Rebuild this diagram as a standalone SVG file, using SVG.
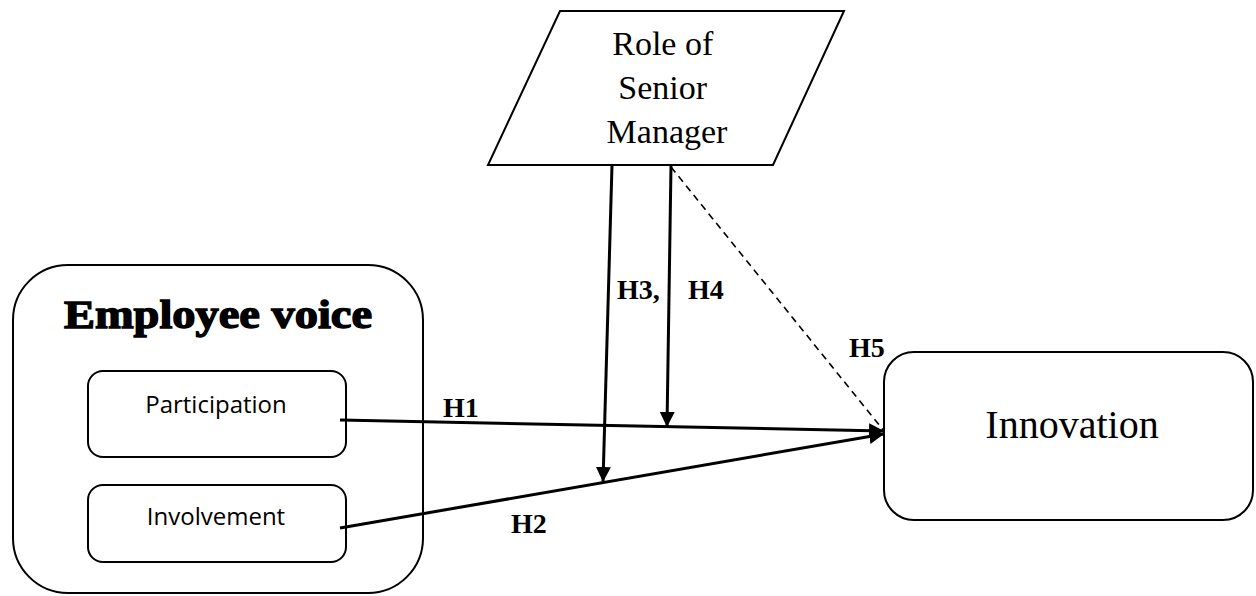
<svg xmlns="http://www.w3.org/2000/svg" width="1256" height="596" viewBox="0 0 1256 596">
  <style>
    .box { fill: #ffffff; stroke: #000000; stroke-width: 2; }
    .link { fill: none; stroke: #000000; stroke-width: 3; }
    .dash { fill: none; stroke: #000000; stroke-width: 1.6; stroke-dasharray: 7 5; }
    .serif { font-family: "Liberation Serif", "Times New Roman", serif; fill: #000000; }
    .sans { font-family: "Open Sans", "Liberation Sans", sans-serif; fill: #000000; }
    .hlabel { font-family: "Liberation Serif", "Times New Roman", serif; font-weight: bold; font-size: 28px; fill: #000000; }
  </style>
  <defs>
    <marker id="arrow" viewBox="0 0 10 10" refX="10" refY="5" markerWidth="5" markerHeight="5" markerUnits="strokeWidth" orient="auto">
      <path d="M0,0 L10,5 L0,10 Z" fill="#000000"/>
    </marker>
  </defs>

  <rect width="1256" height="596" fill="#ffffff"/>

  <!-- Employee voice group -->
  <g id="employee-voice">
    <rect class="box" x="13" y="265" width="410" height="328" rx="55" ry="55"/>
    <text class="serif" x="218" y="328" text-anchor="middle" font-size="40" font-weight="900" stroke="#000" stroke-width="1.4" textLength="308" lengthAdjust="spacingAndGlyphs">Employee voice</text>
  </g>

  <g id="participation">
    <rect class="box" x="88" y="371" width="258" height="86" rx="15" ry="15"/>
    <text class="sans" x="216" y="413" text-anchor="middle" font-size="24">Participation</text>
  </g>

  <g id="involvement">
    <rect class="box" x="88" y="485" width="258" height="77" rx="15" ry="15"/>
    <text class="sans" x="216" y="525" text-anchor="middle" font-size="24">Involvement</text>
  </g>

  <g id="senior-manager">
    <polygon class="box" points="560,11 844,11 773,165 488,165"/>
    <text class="serif" font-size="34" text-anchor="middle">
      <tspan x="667" y="55">Role of</tspan>
      <tspan x="667" y="99">Senior</tspan>
      <tspan x="667" y="143">Manager</tspan>
    </text>
  </g>

  <g id="innovation">
    <rect class="box" x="884" y="352" width="369" height="168" rx="30" ry="30"/>
    <text class="serif" x="1072" y="438" text-anchor="middle" font-size="40">Innovation</text>
  </g>

  <!-- Connectors -->
  <g id="connectors">
    <line class="link" x1="340" y1="420" x2="884" y2="431" marker-end="url(#arrow)"/>
    <line class="link" x1="340" y1="528" x2="884" y2="434" marker-end="url(#arrow)"/>
    <line class="link" x1="612" y1="165" x2="603" y2="482" marker-end="url(#arrow)"/>
    <line class="link" x1="671" y1="165" x2="667" y2="427" marker-end="url(#arrow)"/>
    <line class="dash" x1="671" y1="167" x2="884" y2="431"/>
  </g>

  <!-- Hypothesis labels -->
  <g id="labels">
    <text class="hlabel" x="443" y="417">H1</text>
    <text class="hlabel" x="511" y="533">H2</text>
    <text class="hlabel" x="617" y="299">H3,</text>
    <text class="hlabel" x="688" y="299">H4</text>
    <text class="hlabel" x="849" y="357">H5</text>
  </g>
</svg>
